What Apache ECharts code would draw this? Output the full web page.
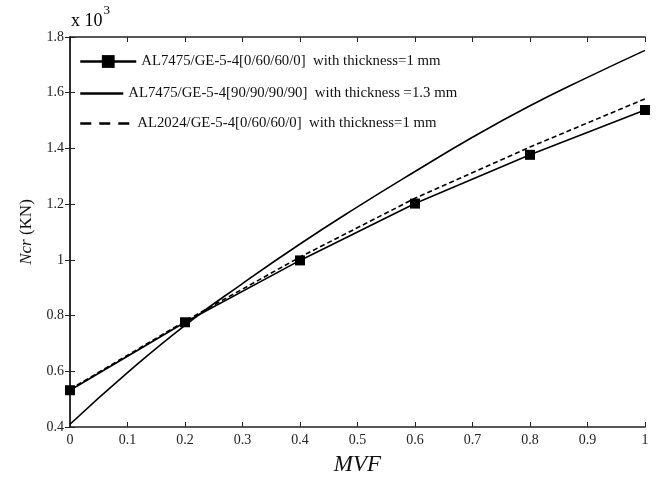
<!DOCTYPE html>
<html>
<head>
<meta charset="utf-8">
<script src="https://cdn.jsdelivr.net/npm/echarts@6/dist/echarts.min.js"></script>
<style>html,body{margin:0;padding:0;background:#fff;}#c{width:656px;height:481px;}</style>
</head>
<body>
<div id="c"></div>
<script>
var names = [
  'AL7475/GE-5-4[0/60/60/0]  with thickness=1 mm',
  'AL7475/GE-5-4[90/90/90/90]  with thickness =1.3 mm',
  'AL2024/GE-5-4[0/60/60/0]  with thickness=1 mm'
];
var mvfA = [0, 0.2, 0.4, 0.6, 0.8, 1.0];
var ncrA = [0.532, 0.776, 0.998, 1.202, 1.377, 1.538];
var mvfB = [0, 0.1, 0.2, 0.3, 0.4, 0.5, 0.6, 0.7, 0.8, 0.9, 1.0];
var ncrB = [0.41, 0.595, 0.765, 0.915, 1.057, 1.19, 1.317, 1.44, 1.553, 1.655, 1.752];
var mvfC = [0, 0.2, 0.4, 0.6, 0.8, 1.0];
var ncrC = [0.535, 0.78, 1.01, 1.221, 1.405, 1.578];

function pairs(xs, ys){ return xs.map(function(x,i){return [x, ys[i]];}); }

var serif = 'Liberation Serif';
var chart = echarts.init(document.getElementById('c'));
var legendBase = {
  orient: 'vertical', left: 74, itemHeight: 12, selectedMode: false,
  textStyle: {fontFamily: serif, fontSize: 14.8, color: '#111'}
};
chart.setOption({
  animation: false,
  backgroundColor: '#fff',
  grid: {left: 70, right: 11, top: 37, bottom: 53},
  legend: [
    Object.assign({}, legendBase, {top: 49, itemWidth: 56, itemHeight: 16,
      data: [{name: names[0], lineStyle: {width: 2.5}}]}),
    Object.assign({}, legendBase, {top: 81, itemWidth: 43,
      data: [{name: names[1], itemStyle: {opacity: 0}, lineStyle: {width: 2.5}}]}),
    Object.assign({}, legendBase, {top: 111, itemWidth: 52,
      data: [{name: names[2], itemStyle: {opacity: 0}, lineStyle: {width: 2.5, type: [11, 8]}}]})
  ],
  xAxis: [{
    type: 'value', min: 0, max: 1, interval: 0.1,
    name: 'MVF', nameLocation: 'middle', nameGap: 26,
    nameTextStyle: {fontFamily: serif, fontStyle: 'italic', fontSize: 23, color: '#111'},
    axisLine: {show: true, lineStyle: {color: '#222', width: 1.5}},
    axisTick: {inside: true, length: 5, lineStyle: {color: '#222'}},
    axisLabel: {fontFamily: serif, fontSize: 14, color: '#222', margin: 6},
    splitLine: {show: false}
  }, {
    type: 'value', min: 0, max: 1, interval: 0.1, position: 'top',
    axisLine: {show: true, lineStyle: {color: '#222', width: 1.5}},
    axisTick: {inside: true, length: 5, lineStyle: {color: '#222'}},
    axisLabel: {show: false}, splitLine: {show: false}
  }],
  yAxis: [{
    type: 'value', min: 0.4, max: 1.8, interval: 0.2,
    name: '{i|Ncr} (KN)', nameLocation: 'middle', nameGap: 35, nameRotate: 90,
    nameTextStyle: {fontFamily: serif, fontSize: 17, color: '#111',
      rich: {i: {fontFamily: serif, fontStyle: 'italic', fontSize: 17, color: '#111'}}},
    axisLine: {show: true, lineStyle: {color: '#222', width: 1.5}},
    axisTick: {inside: true, length: 5, lineStyle: {color: '#222'}},
    axisLabel: {fontFamily: serif, fontSize: 14, color: '#222', margin: 6,
      formatter: function(v){ return String(Math.round(v*10)/10); }},
    splitLine: {show: false}
  }, {
    type: 'value', min: 0.4, max: 1.8, interval: 0.2, position: 'right',
    axisLine: {show: true, lineStyle: {color: '#222', width: 1.5}},
    axisTick: {inside: true, length: 5, lineStyle: {color: '#222'}},
    axisLabel: {show: false}, splitLine: {show: false}
  }],
  graphic: [{
    type: 'text', left: 71, top: 4,
    style: {
      text: '{a|x 10}{s|3}', fontFamily: serif,
      rich: {
        a: {fontFamily: serif, fontSize: 18, color: '#111', verticalAlign: 'bottom', padding: [8,0,0,0]},
        s: {fontFamily: serif, fontSize: 13, color: '#111', verticalAlign: 'top', padding: [0,0,10,1]}
      }
    }
  }],
  series: [{
    name: names[0], type: 'line', data: pairs(mvfA, ncrA),
    symbol: 'rect', symbolSize: 10, showAllSymbol: true,
    itemStyle: {color: '#000'}, lineStyle: {color: '#000', width: 1.6},
    z: 3
  }, {
    name: names[1], type: 'line', data: pairs(mvfB, ncrB), smooth: true,
    symbol: 'none', itemStyle: {color: '#000'}, lineStyle: {color: '#000', width: 1.6}
  }, {
    name: names[2], type: 'line', data: pairs(mvfC, ncrC),
    symbol: 'none', itemStyle: {color: '#000'},
    lineStyle: {color: '#000', width: 1.6, type: [5, 3]}
  }]
});
</script>
</body>
</html>
